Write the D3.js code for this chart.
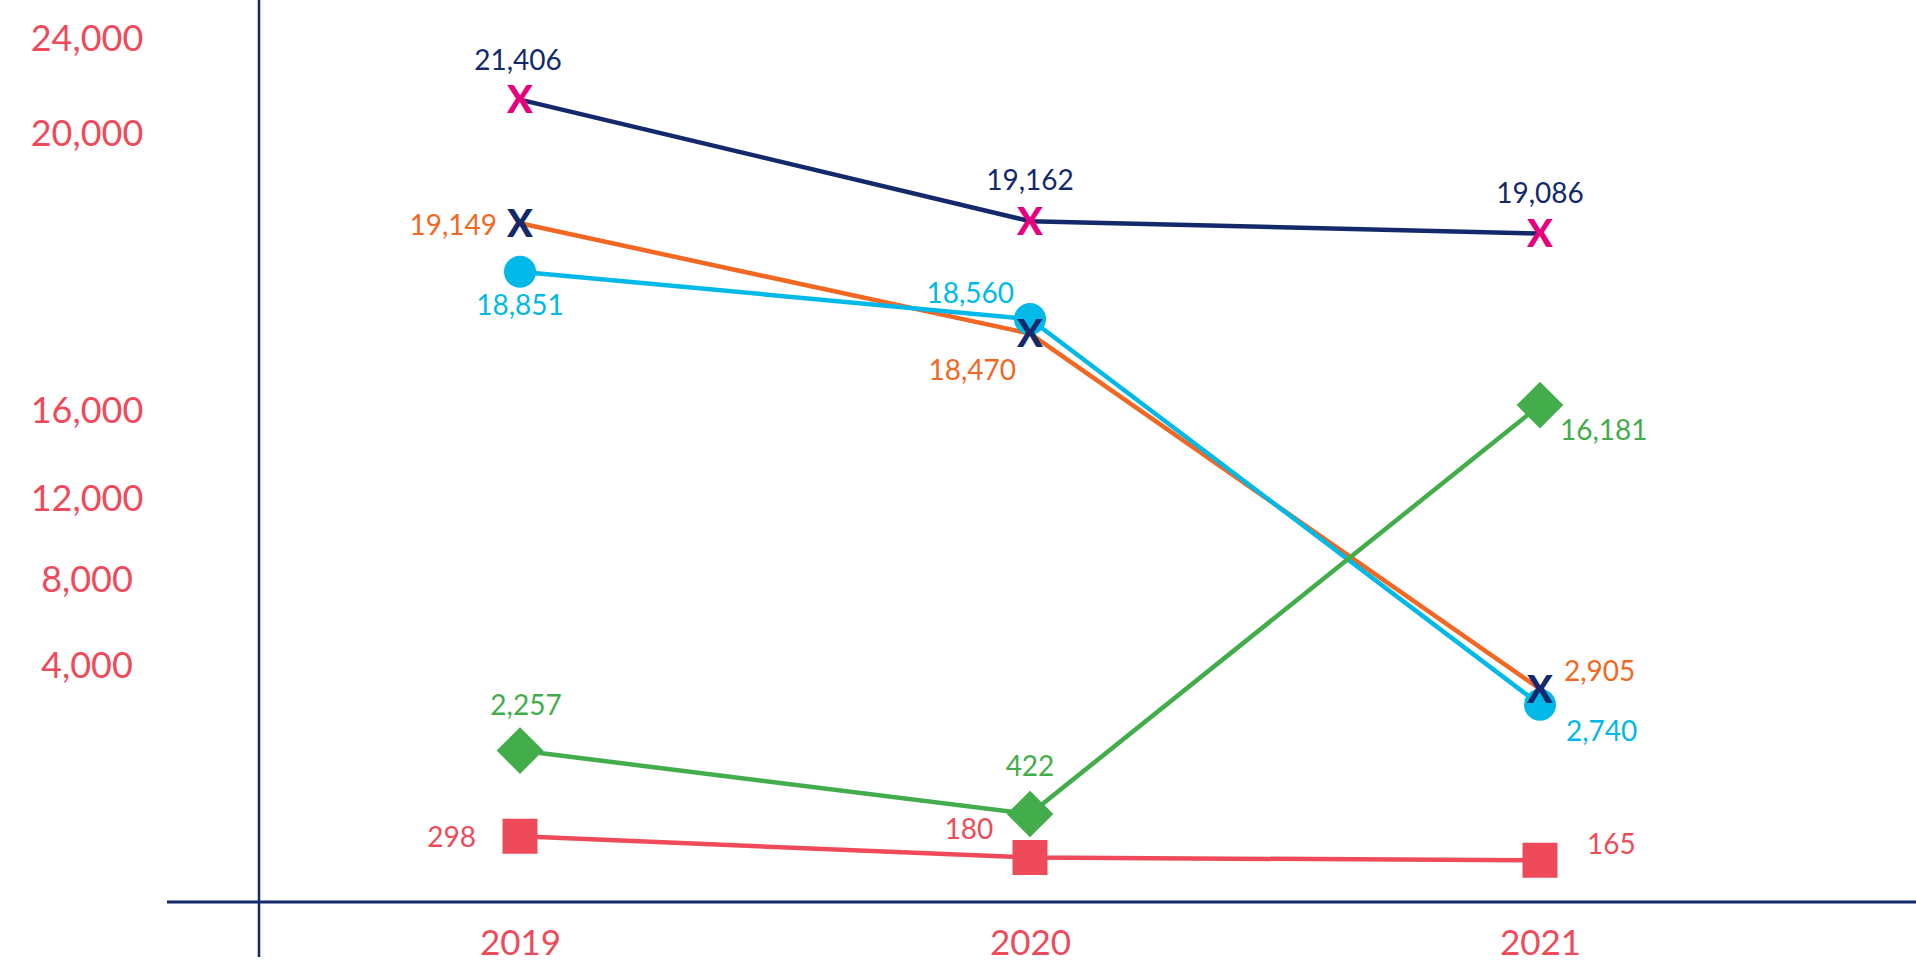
<!DOCTYPE html>
<html>
<head>
<meta charset="utf-8">
<script src="https://cdn.jsdelivr.net/npm/d3@7"></script>
<style>
  html, body { margin: 0; padding: 0; background: #ffffff; }
  svg { display: block; }
  text { font-family: Lato, "Noto Sans", sans-serif; }
</style>
</head>
<body>
<script>
// ---- data -------------------------------------------------------------
const years = ["2019", "2020", "2021"];

const valuesNavy   = [21406, 19162, 19086];
const valuesOrange = [19149, 18470, 2905];
const valuesCyan   = [18851, 18560, 2740];
const valuesGreen  = [2257, 422, 16181];
const valuesRed    = [298, 180, 165];

const yTickValues = [4000, 8000, 12000, 16000, 20000, 24000];

// ---- styling ----------------------------------------------------------
const NAVY = "#13296b";
const PINK = "#e6007e";
const ORANGE = "#f26722";
const CYAN = "#00b9e8";
const GREEN = "#42ad4a";
const RED = "#ef4a5a";

// label placement per point: [dx, dy, anchor]
const series = [
  { values: valuesNavy,   line: NAVY,   marker: "times",   markerColor: PINK,  labelColor: NAVY,
    labels: [[-2, -40, "middle"], [0, -41, "middle"], [0, -41, "middle"]] },
  { values: valuesOrange, line: ORANGE, marker: "times",   markerColor: NAVY,  labelColor: ORANGE,
    labels: [[-23, 2, "end"], [-14, 36, "end"], [24, -18, "start"]] },
  { values: valuesCyan,   line: CYAN,   marker: "circle",  markerColor: CYAN,  labelColor: CYAN,
    labels: [[0, 33, "middle"], [-16, -26, "end"], [26, 26, "start"]] },
  { values: valuesGreen,  line: GREEN,  marker: "diamond", markerColor: GREEN, labelColor: GREEN,
    labels: [[6, -46, "middle"], [0, -48, "middle"], [20, 25, "start"]] },
  { values: valuesRed,    line: RED,    marker: "square",  markerColor: RED,   labelColor: RED,
    labels: [[-44, 1, "end"], [-61, -29, "middle"], [47, -16, "start"]] }
];

// ---- canvas -----------------------------------------------------------
const W = 1916, H = 962;
const svg = d3.select("body").append("svg").attr("width", W).attr("height", H);

// ---- scales (broken value axis: expanded bands near the data) ---------
const x = d3.scalePoint().domain(years).range([520, 1540]);
const y = d3.scaleLinear()
  .domain([0, 500, 2000, 3000, 4000, 8000, 12000, 16000, 18400, 19200, 20000, 24000])
  .range([890, 800, 775, 680, 665, 579, 498, 410, 345, 215, 133, 38]);

const fmt = d3.format(",");

// ---- axes -------------------------------------------------------------
svg.append("line")
  .attr("x1", 259).attr("x2", 259).attr("y1", 0).attr("y2", 957)
  .attr("stroke", NAVY).attr("stroke-width", 2.5);

svg.append("line")
  .attr("x1", 167).attr("x2", W).attr("y1", 902).attr("y2", 902)
  .attr("stroke", NAVY).attr("stroke-width", 3);

const gy = svg.append("g").attr("transform", "translate(87,0)")
  .call(d3.axisLeft(y).tickValues(yTickValues).tickFormat(fmt).tickSize(0).tickPadding(0));
gy.select(".domain").remove();
gy.selectAll("text")
  .attr("x", 0).attr("dy", "0.36em")
  .attr("text-anchor", "middle")
  .attr("fill", RED)
  .style("font-size", "36px");

const gx = svg.append("g").attr("transform", "translate(0,902)")
  .call(d3.axisBottom(x).tickSize(0).tickPadding(0));
gx.select(".domain").remove();
gx.selectAll("text")
  .attr("y", 40).attr("dy", "0.36em")
  .attr("fill", RED)
  .style("font-size", "35px");

// ---- lines ------------------------------------------------------------
const line = d3.line()
  .x((d, i) => x(years[i]))
  .y(d => y(d));

svg.append("g").selectAll("path")
  .data(series)
  .join("path")
  .attr("d", s => line(s.values))
  .attr("fill", "none")
  .attr("stroke", s => s.line)
  .attr("stroke-width", 4.5)
  .attr("stroke-linejoin", "round");

// ---- markers ----------------------------------------------------------
const points = series.flatMap((s, si) =>
  s.values.map((v, i) => ({ s, si, v, year: years[i], i })));

const order = { circle: 0, diamond: 1, square: 2, times: 3 };
const gm = svg.append("g");
points.slice().sort((a, b) => order[a.s.marker] - order[b.s.marker]).forEach(p => {
  const cx = x(p.year), cy = y(p.v);
  if (p.s.marker === "circle") {
    gm.append("circle").attr("cx", cx).attr("cy", cy).attr("r", 16).attr("fill", p.s.markerColor);
  } else if (p.s.marker === "diamond") {
    gm.append("path")
      .attr("d", d3.symbol(d3.symbolSquare, 33 * 33)())
      .attr("transform", `translate(${cx},${cy}) rotate(45)`)
      .attr("fill", p.s.markerColor);
  } else if (p.s.marker === "square") {
    gm.append("path")
      .attr("d", d3.symbol(d3.symbolSquare, 35 * 35)())
      .attr("transform", `translate(${cx},${cy})`)
      .attr("fill", p.s.markerColor);
  } else {
    gm.append("text")
      .attr("x", cx).attr("y", cy).attr("dy", "0.36em")
      .attr("text-anchor", "middle")
      .attr("fill", p.s.markerColor)
      .style("font-size", "38px").style("font-weight", 900)
      .text("X");
  }
});

// ---- value labels -----------------------------------------------------
svg.append("g").selectAll("text")
  .data(points)
  .join("text")
  .attr("x", p => x(p.year) + p.s.labels[p.i][0])
  .attr("y", p => y(p.v) + p.s.labels[p.i][1])
  .attr("dy", "0.36em")
  .attr("text-anchor", p => p.s.labels[p.i][2])
  .attr("fill", p => p.s.labelColor)
  .style("font-size", "28px")
  .text(p => fmt(p.v));
</script>
</body>
</html>
